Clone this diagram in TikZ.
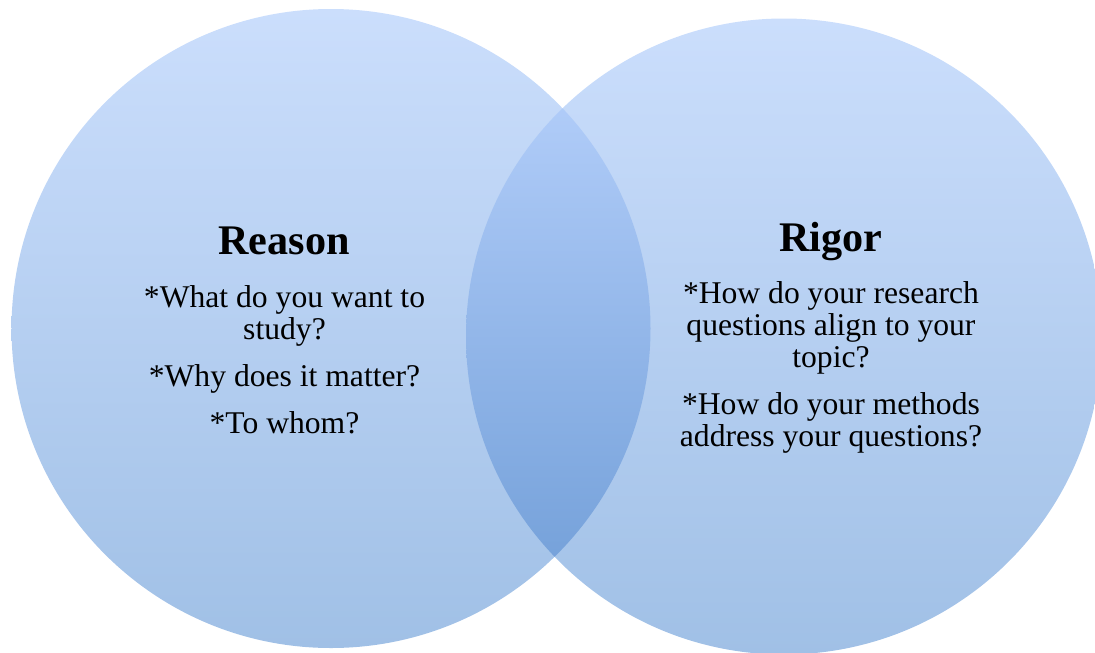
\documentclass[tikz,border=0pt]{standalone}
\usepackage{fontspec}
\setmainfont{Liberation Serif}
\usetikzlibrary{positioning}
\definecolor{circtop}{HTML}{CBDEFC}
\definecolor{circbot}{HTML}{A0C0E6}
\definecolor{lenstop}{HTML}{BBD4FE}
\definecolor{lensbot}{HTML}{6A99D4}

\begin{document}
\begin{tikzpicture}[
  venncircle/.style={
    circle,
    inner sep=0pt,
    minimum size=#1,
    top color=circtop,
    bottom color=circbot,
    draw=none
  },
  titlenode/.style={
    anchor=base,
    inner sep=0pt,
    font=\fontsize{24}{29}\selectfont\bfseries
  },
  bodynode/.style={
    anchor=north,
    inner sep=0pt,
    align=center,
    font=\fontsize{18}{18.2}\selectfont
  }
  ]
  \useasboundingbox (0,0) rectangle (21.9,-13.04);

  % circles
  \node[venncircle=12.78cm] (reason-circle) at (6.62,-6.57) {};
  \node[venncircle=12.72cm] (rigor-circle) at (15.68,-6.73) {};

  % overlap
  \begin{scope}
    \clip (reason-circle.center) circle (6.39);
    \shade[top color=lenstop, bottom color=lensbot] (rigor-circle.center) circle (6.36);
  \end{scope}

  % reason
  \node[titlenode] (reason-title) at (5.68,-5.08) {Reason};
  \node[bodynode] (reason-body) at (5.69,-5.70) {*What do you want to\\ study?\\[8.5pt]
    *Why does it matter?\\[8.5pt] *To whom?};

  % rigor
  \node[titlenode] (rigor-title) at (16.62,-5.03) {Rigor};
  \node[bodynode] (rigor-body) at (16.62,-5.63) {*How do your research\\ questions align to your\\ topic?\\[8.5pt]
    *How do your methods\\ address your questions?};

\end{tikzpicture}
\end{document}
